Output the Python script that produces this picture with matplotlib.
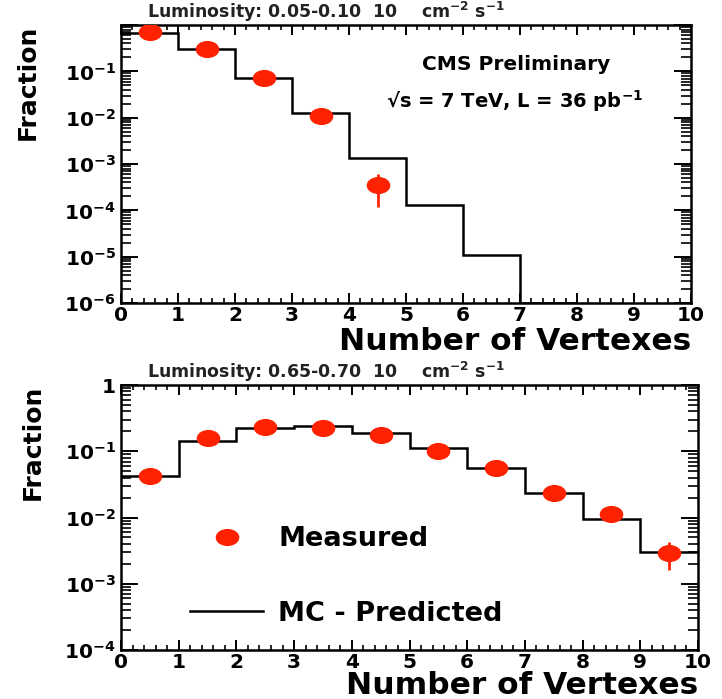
import numpy as np
import matplotlib
matplotlib.use("Agg")
from matplotlib import pyplot as plt
from matplotlib.lines import Line2D
from matplotlib.path import Path
from matplotlib.transforms import Affine2D
from matplotlib.ticker import MultipleLocator, LogLocator, FuncFormatter

plt.rcParams['font.family'] = ['DejaVu Sans']
plt.rcParams['font.weight'] = 'bold'
plt.rcParams['axes.labelweight'] = 'bold'
plt.rcParams['mathtext.fontset'] = 'dejavusans'
plt.rcParams['mathtext.default'] = 'bf'

# low luminosity bin (0.05-0.10)
edges_top = np.arange(0, 9)
mc_top = [0.67, 0.30, 0.072, 0.0126, 0.00135, 1.3e-4, 1.1e-5, 0.0]
meas_top_x = [0.5, 1.5, 2.5, 3.5, 4.5]
meas_top = [0.71, 0.30, 0.072, 0.011, 3.6e-4]
err_top = [0.03, 0.015, 0.005, 0.001, 2.4e-4]

# high luminosity bin (0.65-0.70)
edges_bot = np.arange(0, 11)
mc_bot = [0.042, 0.143, 0.224, 0.24, 0.188, 0.112, 0.056, 0.0234, 0.0095, 0.0030]
meas_bot_x = [0.5, 1.5, 2.5, 3.5, 4.5, 5.5, 6.5, 7.5, 8.5, 9.5]
meas_bot = [0.042, 0.158, 0.232, 0.224, 0.176, 0.101, 0.056, 0.0234, 0.0113, 0.0029]
err_bot = [0.004, 0.012, 0.016, 0.016, 0.013, 0.008, 0.0045, 0.002, 0.0012, 0.0013]

RED = '#ff2200'
# slightly wide dots, like the ROOT markers
DOT = Affine2D().scale(1.38, 1.0).transform_path(Path.unit_circle())


def log_label(show_one):
    def fmt(v, pos):
        e = int(round(np.log10(v)))
        if e == 0:
            return '1' if show_one else ''
        return r'$10^{%d}$' % e
    return FuncFormatter(fmt)


def style_axes(ax, ymin, show_one):
    ax.set_yscale('log')
    ax.set_xlim(0, 10)
    ax.set_ylim(ymin, 1)
    ax.xaxis.set_major_locator(MultipleLocator(1))
    ax.xaxis.set_minor_locator(MultipleLocator(0.2))
    ax.yaxis.set_major_locator(LogLocator(base=10))
    ax.yaxis.set_minor_locator(LogLocator(base=10, subs=np.arange(2, 10)))
    ax.yaxis.set_major_formatter(log_label(show_one))
    ax.tick_params(which='both', direction='in', top=True, right=True, labelsize=14.5)
    ax.tick_params(axis='x', which='major', length=7, width=1.4, pad=2)
    ax.tick_params(axis='x', which='minor', length=3.5, width=1.2)
    ax.tick_params(axis='y', which='major', length=12, width=1.4, pad=4)
    ax.tick_params(axis='y', which='minor', length=7, width=1.2)
    for s in ax.spines.values():
        s.set_linewidth(1.8)
    ax.set_xlabel('Number of Vertexes', fontsize=22.5, fontweight='bold', loc='right')
    ax.set_ylabel('Fraction', fontsize=18, fontweight='bold', loc='top')


def draw(ax, edges, mc, x, y, yerr, ymin):
    ax.stairs(np.maximum(mc, ymin), edges, baseline=None, color='black', linewidth=1.8, zorder=2)
    ax.errorbar(x, y, yerr=yerr, fmt='none', ecolor=RED, elinewidth=2, capsize=0, zorder=3)
    ax.plot(x, y, linestyle='none', marker=DOT, markersize=17, color=RED, markeredgewidth=0, zorder=4)


fig = plt.figure(figsize=(7.22, 6.99), dpi=100)
ax1 = fig.add_axes([0.1676, 0.5665, 0.7895, 0.3977])
ax2 = fig.add_axes([0.1676, 0.0701, 0.7992, 0.3791])

draw(ax1, edges_top, mc_top, meas_top_x, meas_top, err_top, 1e-6)
style_axes(ax1, 1e-6, False)
ax1.xaxis.set_label_coords(1.0, -0.088)
ax1.yaxis.set_label_coords(-0.142, 1.0)
ax1.text(0.693, 0.838, 'CMS Preliminary', transform=ax1.transAxes,
         ha='center', va='baseline', fontsize=14.5)
ax1.text(0.691, 0.701, r'√s = 7 TeV, L = 36 pb$^{-1}$', transform=ax1.transAxes,
         ha='center', va='baseline', fontsize=14)

draw(ax2, edges_bot, mc_bot, meas_bot_x, meas_bot, err_bot, 1e-4)
style_axes(ax2, 1e-4, True)
ax2.xaxis.set_label_coords(1.0, -0.08)
ax2.yaxis.set_label_coords(-0.132, 1.0)

handles = [Line2D([], [], linestyle='none', marker=DOT, markersize=17, color=RED, markeredgewidth=0),
           Line2D([], [], color='black', linewidth=1.8)]
ax2.legend(handles, ['Measured', 'MC - Predicted'], loc='center left',
           bbox_to_anchor=(0.1196, 0.277), frameon=False, numpoints=1,
           handlelength=2.7, handletextpad=0.55, labelspacing=1.8,
           borderpad=0, borderaxespad=0, prop={'size': 19.5, 'weight': 'bold'})

fig.text(147 / 722, 1 - 17.5 / 699, r'Luminosity: 0.05-0.10  10    cm$^{-2}$ s$^{-1}$',
         fontsize=12.5, va='baseline', ha='left', color='#222222')
fig.text(147 / 722, 1 - 378 / 699, r'Luminosity: 0.65-0.70  10    cm$^{-2}$ s$^{-1}$',
         fontsize=12.5, va='baseline', ha='left', color='#222222')

fig.savefig('out.png', dpi=100)
